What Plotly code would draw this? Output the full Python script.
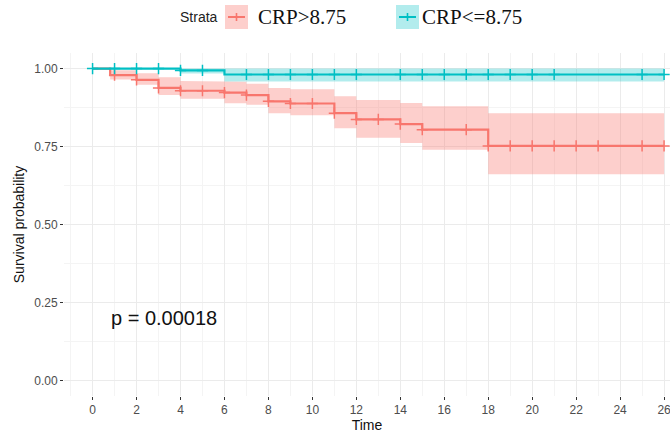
import numpy as np
import plotly.graph_objects as go

# ---------------- data ----------------
strata_names = ["CRP>8.75", "CRP<=8.75"]

# CRP>8.75 (red)
red_time = [0, 0.8, 2, 3, 4, 6, 7, 8, 9, 11, 12, 14, 15, 18]
red_surv = [1.0, 0.979, 0.964, 0.938, 0.929, 0.923, 0.915, 0.895, 0.888, 0.857, 0.837, 0.822, 0.804, 0.752]
red_lower = [1.0, 0.965, 0.948, 0.915, 0.903, 0.889, 0.884, 0.857, 0.850, 0.809, 0.778, 0.761, 0.740, 0.661]
red_upper = [1.0, 0.995, 0.985, 0.972, 0.960, 0.958, 0.951, 0.938, 0.934, 0.911, 0.899, 0.890, 0.879, 0.857]
red_censor = [1, 2, 3, 4, 5, 6, 7, 8, 9, 10, 11, 12, 13, 14, 15, 17, 18, 19, 20, 21, 22, 23, 25, 26]

# CRP<=8.75 (teal)
teal_time = [0, 4, 6]
teal_surv = [1.0, 0.994, 0.981]
teal_lower = [1.0, 0.984, 0.959]
teal_upper = [1.0, 1.0, 1.0]
teal_censor = [0, 1, 2, 3, 4, 5, 7, 8, 9, 10, 11, 12, 14, 15, 16, 17, 18, 19, 20, 21, 25, 26]

end_time = 26
x_ticks = list(range(0, 27, 2))
y_ticks = [0.0, 0.25, 0.5, 0.75, 1.0]
y_tick_labels = ["0.00", "0.25", "0.50", "0.75", "1.00"]
p_text = "p = 0.00018"

RED = "#F8766D"
TEAL = "#00BFC4"
RED_FILL = "rgba(248,118,109,0.35)"
TEAL_FILL = "rgba(0,191,196,0.30)"


def steps(t, v, end):
    xs, ys = [], []
    for i in range(len(t)):
        nxt = t[i + 1] if i + 1 < len(t) else end
        xs += [t[i], nxt]
        ys += [v[i], v[i]]
    return xs, ys


def at(t, v, times):
    idx = np.searchsorted(np.array(t), np.array(times, dtype=float), side="right") - 1
    return [v[i] for i in idx]


fig = go.Figure()

groups = [
    (red_time, red_surv, red_lower, red_upper, red_censor, RED, RED_FILL),
    (teal_time, teal_surv, teal_lower, teal_upper, teal_censor, TEAL, TEAL_FILL),
]

# bands first
for t, s, lo, hi, cen, col, fcol in groups:
    ux, uy = steps(t, hi, end_time)
    lx, ly = steps(t, lo, end_time)
    fig.add_trace(go.Scatter(x=ux + lx[::-1], y=uy + ly[::-1], fill="toself",
                             fillcolor=fcol, line=dict(width=0), mode="lines",
                             hoverinfo="skip", showlegend=False))

for (t, s, lo, hi, cen, col, fcol), name in zip(groups, strata_names):
    sx, sy = steps(t, s, end_time)
    fig.add_trace(go.Scatter(x=sx, y=sy, mode="lines", line=dict(color=col, width=2.2),
                             name=name, showlegend=False))
    fig.add_trace(go.Scatter(x=cen, y=at(t, s, cen), mode="markers",
                             marker=dict(symbol="cross-thin", size=8,
                                         line=dict(color=col, width=1.5)),
                             showlegend=False))

# plot area geometry in pixels
L, R, T, B = 64, 0, 53, 38
W, H = 670, 434
pw, ph = W - L - R, H - T - B


def px(x):
    return (x - L) / pw


def py(y):
    return (H - B - y) / ph


# manual legend
fig.add_annotation(x=px(220), y=py(17), xref="paper", yref="paper", text="Strata",
                   showarrow=False, xanchor="right", yanchor="middle",
                   font=dict(family="Liberation Sans", size=14, color="#222222"))
legend_items = [(225, 256, RED, RED_FILL, strata_names[0]),
                (396, 420, TEAL, TEAL_FILL, strata_names[1])]
for x0, tx, col, fcol, name in legend_items:
    fig.add_shape(type="rect", xref="paper", yref="paper",
                  x0=px(x0), x1=px(x0 + 23), y0=py(5), y1=py(29),
                  fillcolor=fcol, line=dict(width=0), layer="above")
    fig.add_shape(type="line", xref="paper", yref="paper",
                  x0=px(x0 + 3), x1=px(x0 + 20), y0=py(17), y1=py(17),
                  line=dict(color=col, width=2), layer="above")
    fig.add_shape(type="line", xref="paper", yref="paper",
                  x0=px(x0 + 11.5), x1=px(x0 + 11.5), y0=py(13), y1=py(21),
                  line=dict(color=col, width=1.6), layer="above")
    fig.add_annotation(x=px(tx), y=py(17), xref="paper", yref="paper", text=name,
                       showarrow=False, xanchor="left", yanchor="middle",
                       font=dict(family="Liberation Serif", size=21, color="#111111"))

fig.add_annotation(x=3.25, y=0.2, xref="x", yref="y", text=p_text, showarrow=False,
                   xanchor="center", yanchor="middle",
                   font=dict(family="Liberation Sans", size=20, color="#111111"))

fig.update_layout(
    width=W, height=H,
    margin=dict(l=L, r=R, t=T, b=B, pad=0),
    paper_bgcolor="white", plot_bgcolor="white",
    font=dict(family="Liberation Sans"),
)
fig.update_xaxes(range=[-1.3, 26.27], tickvals=x_ticks, ticks="outside", ticklen=3,
                 tickwidth=1.2, tickcolor="#333333", showline=False, zeroline=False,
                 showgrid=True, gridcolor="#EBEBEB", gridwidth=1.2,
                 minor=dict(dtick=1, tick0=0, showgrid=True, gridcolor="#F4F4F4", gridwidth=1),
                 tickfont=dict(size=12, color="#4D4D4D"), ticklabeloverflow="allow",
                 title=dict(text="Time", font=dict(size=14, color="#111111"), standoff=2))
fig.update_yaxes(range=[-0.05, 1.05], tickvals=y_ticks, ticktext=y_tick_labels,
                 ticks="outside", ticklen=3, tickwidth=1.2, tickcolor="#333333",
                 showline=False, zeroline=False, showgrid=True, gridcolor="#EBEBEB", gridwidth=1.2,
                 minor=dict(dtick=0.125, tick0=0, showgrid=True, gridcolor="#F4F4F4", gridwidth=1),
                 tickfont=dict(size=12, color="#4D4D4D"),
                 title=dict(text="Survival probability", font=dict(size=14, color="#111111"), standoff=6))

fig.write_html("out.html")
